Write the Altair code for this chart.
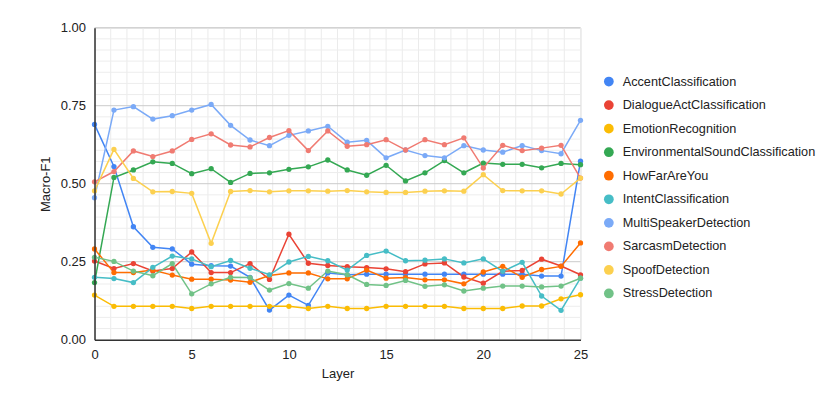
import altair as alt
import pandas as pd

layers = list(range(26))

series_names = [
    "AccentClassification",
    "DialogueActClassification",
    "EmotionRecognition",
    "EnvironmentalSoundClassification",
    "HowFarAreYou",
    "IntentClassification",
    "MultiSpeakerDetection",
    "SarcasmDetection",
    "SpoofDetection",
    "StressDetection",
]
series_colors = [
    "#4285F4", "#EA4335", "#FBBC04", "#34A853", "#FF6D01",
    "#46BDC6", "#7BAAF7", "#F07B72", "#FCD04F", "#71C287",
]

accent = [0.690, 0.555, 0.362, 0.296, 0.291, 0.242, 0.237, 0.236, 0.200, 0.095,
          0.143, 0.110, 0.214, 0.208, 0.210, 0.210, 0.210, 0.210, 0.210, 0.210,
          0.210, 0.210, 0.210, 0.204, 0.204, 0.572]
dialogue = [0.252, 0.228, 0.244, 0.220, 0.228, 0.281, 0.215, 0.215, 0.244, 0.193,
            0.338, 0.245, 0.238, 0.234, 0.231, 0.227, 0.218, 0.243, 0.246, 0.201,
            0.181, 0.219, 0.222, 0.258, 0.236, 0.208]
emotion = [0.143, 0.107, 0.107, 0.107, 0.107, 0.100, 0.107, 0.107, 0.107, 0.107,
           0.107, 0.100, 0.107, 0.100, 0.100, 0.107, 0.107, 0.107, 0.107, 0.100,
           0.100, 0.100, 0.108, 0.108, 0.131, 0.144]
env_sound = [0.183, 0.520, 0.544, 0.570, 0.565, 0.532, 0.548, 0.504, 0.533, 0.535,
             0.546, 0.554, 0.576, 0.544, 0.527, 0.559, 0.509, 0.535, 0.574, 0.535,
             0.566, 0.562, 0.562, 0.551, 0.565, 0.561]
how_far = [0.291, 0.215, 0.215, 0.223, 0.207, 0.194, 0.194, 0.191, 0.184, 0.206,
           0.214, 0.214, 0.195, 0.195, 0.223, 0.197, 0.199, 0.192, 0.192, 0.179,
           0.217, 0.235, 0.200, 0.225, 0.235, 0.310]
intent = [0.200, 0.196, 0.183, 0.232, 0.268, 0.259, 0.234, 0.254, 0.229, 0.208,
          0.249, 0.267, 0.253, 0.223, 0.270, 0.284, 0.253, 0.255, 0.259, 0.246,
          0.259, 0.219, 0.248, 0.140, 0.094, 0.197]
multi_speaker = [0.455, 0.736, 0.747, 0.707, 0.718, 0.736, 0.754, 0.687, 0.640, 0.622,
                 0.655, 0.669, 0.684, 0.633, 0.639, 0.583, 0.608, 0.590, 0.583, 0.622,
                 0.608, 0.601, 0.622, 0.606, 0.596, 0.703]
sarcasm = [0.506, 0.539, 0.605, 0.587, 0.605, 0.642, 0.660, 0.624, 0.618, 0.648,
           0.670, 0.606, 0.669, 0.620, 0.625, 0.641, 0.608, 0.641, 0.625, 0.647,
           0.550, 0.623, 0.606, 0.614, 0.623, 0.518]
spoof = [0.477, 0.610, 0.517, 0.474, 0.475, 0.469, 0.309, 0.475, 0.478, 0.474,
         0.477, 0.477, 0.476, 0.478, 0.474, 0.472, 0.472, 0.476, 0.477, 0.476,
         0.529, 0.478, 0.477, 0.477, 0.467, 0.518]
stress = [0.264, 0.251, 0.220, 0.205, 0.244, 0.147, 0.179, 0.200, 0.199, 0.159,
          0.180, 0.165, 0.220, 0.208, 0.177, 0.174, 0.190, 0.171, 0.176, 0.156,
          0.165, 0.172, 0.172, 0.169, 0.172, 0.197]

all_series = [accent, dialogue, emotion, env_sound, how_far,
              intent, multi_speaker, sarcasm, spoof, stress]

x_ticks = [0, 5, 10, 15, 20, 25]
y_ticks = [0, 0.25, 0.5, 0.75, 1.0]

rows = []
for name, vals in zip(series_names, all_series):
    for layer, v in zip(layers, vals):
        rows.append({"layer": layer, "value": v, "series": name})
df = pd.DataFrame(rows)

FONT = "Liberation Sans"
TXT = "#222222"

xscale = alt.Scale(domain=[0, 25], nice=False, zero=False)
yscale = alt.Scale(domain=[0, 1], nice=False, zero=True)
color_scale = alt.Scale(domain=series_names, range=series_colors)

x_axis = alt.Axis(
    values=x_ticks, title="Layer", grid=False, ticks=False,
    labelPadding=9, labelFontSize=13, labelFont=FONT, labelColor=TXT,
    titleFontSize=13, titleFont=FONT, titleColor=TXT, titleFontWeight="normal",
    titlePadding=6, domainColor="#333333", domainWidth=1.5, zindex=1,
    labelFlush=False,
)
y_axis = alt.Axis(
    values=y_ticks, format=".2f", title="Macro-F1", grid=False, ticks=False,
    labelPadding=9, labelFontSize=13, labelFont=FONT, labelColor=TXT,
    titleFontSize=13, titleFont=FONT, titleColor=TXT, titleFontWeight="normal",
    titlePadding=8, domainColor="#333333", domainWidth=1.5, zindex=1,
    labelFlush=False,
)
legend = alt.Legend(
    orient="none", legendX=508, legendY=47.5, title=None,
    symbolType="circle", symbolSize=95, symbolStrokeWidth=0,
    symbolOpacity=1, labelFontSize=12.7, labelFont=FONT,
    labelColor=TXT, rowPadding=9.55, labelOffset=7.5, padding=0, labelLimit=400,
)

# gridlines (minor and major)
y_minor = [k * 0.25 / 7 for k in range(1, 28) if k % 7 != 0]
x_minor = [k * 5 / 6 for k in range(1, 31)]
y_major = [0.25, 0.5, 0.75, 1.0]

vgrid = alt.Chart(pd.DataFrame({"layer": x_minor})).mark_rule(
    color="#ebebeb", strokeWidth=1
).encode(x=alt.X("layer:Q", scale=xscale, axis=x_axis))

hgrid_minor = alt.Chart(pd.DataFrame({"value": y_minor})).mark_rule(
    color="#ededed", strokeWidth=1
).encode(y=alt.Y("value:Q", scale=yscale, axis=y_axis))

hgrid_major = alt.Chart(pd.DataFrame({"value": y_major})).mark_rule(
    color="#cccccc", strokeWidth=1
).encode(y=alt.Y("value:Q", scale=yscale, axis=y_axis))

base = alt.Chart(df)

lines = base.mark_line(strokeWidth=1.5).encode(
    x=alt.X("layer:Q", scale=xscale, axis=x_axis),
    y=alt.Y("value:Q", scale=yscale, axis=y_axis),
    color=alt.Color("series:N", scale=color_scale, legend=legend),
    order=alt.Order("layer:Q"),
)

points = base.mark_point(filled=True, size=28, opacity=1).encode(
    x=alt.X("layer:Q", scale=xscale, axis=x_axis),
    y=alt.Y("value:Q", scale=yscale, axis=y_axis),
    color=alt.Color("series:N", scale=color_scale, legend=legend),
)

chart = alt.layer(vgrid, hgrid_minor, hgrid_major, lines, points).properties(
    width=486, height=312,
    autosize=alt.AutoSizeParams(type="none"),
    padding={"left": 86.5, "top": 19.7, "right": 241, "bottom": 60},
).configure_view(stroke=None).configure(background="white")

chart.save("out.html", embed_options={"renderer": "svg", "actions": False})
